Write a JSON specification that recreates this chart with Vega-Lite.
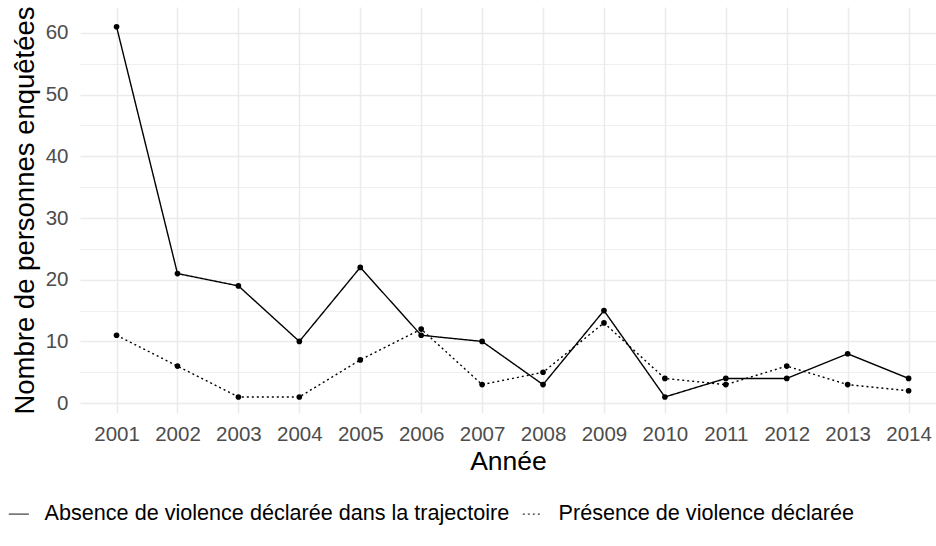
{
  "$schema": "https://vega.github.io/schema/vega-lite/v6.json",
  "autosize": "none",
  "width": 856,
  "height": 406,
  "padding": {"left": 80, "top": 7, "right": 0, "bottom": 133},
  "background": "white",
  "config": {
    "view": {"stroke": null},
    "font": "Liberation Sans",
    "axis": {"domain": false, "ticks": false, "gridColor": "#ebebeb", "labelColor": "#4d4d4d", "labelFont": "Liberation Sans", "titleFont": "Liberation Sans", "titleFontWeight": "normal", "titleColor": "#000000"}
  },
  "data": {
    "values": [
      {"annee": 2001, "serie": "Absence de violence déclarée dans la trajectoire", "n": 61},
      {"annee": 2002, "serie": "Absence de violence déclarée dans la trajectoire", "n": 21},
      {"annee": 2003, "serie": "Absence de violence déclarée dans la trajectoire", "n": 19},
      {"annee": 2004, "serie": "Absence de violence déclarée dans la trajectoire", "n": 10},
      {"annee": 2005, "serie": "Absence de violence déclarée dans la trajectoire", "n": 22},
      {"annee": 2006, "serie": "Absence de violence déclarée dans la trajectoire", "n": 11},
      {"annee": 2007, "serie": "Absence de violence déclarée dans la trajectoire", "n": 10},
      {"annee": 2008, "serie": "Absence de violence déclarée dans la trajectoire", "n": 3},
      {"annee": 2009, "serie": "Absence de violence déclarée dans la trajectoire", "n": 15},
      {"annee": 2010, "serie": "Absence de violence déclarée dans la trajectoire", "n": 1},
      {"annee": 2011, "serie": "Absence de violence déclarée dans la trajectoire", "n": 4},
      {"annee": 2012, "serie": "Absence de violence déclarée dans la trajectoire", "n": 4},
      {"annee": 2013, "serie": "Absence de violence déclarée dans la trajectoire", "n": 8},
      {"annee": 2014, "serie": "Absence de violence déclarée dans la trajectoire", "n": 4},
      {"annee": 2001, "serie": "Présence de violence déclarée", "n": 11},
      {"annee": 2002, "serie": "Présence de violence déclarée", "n": 6},
      {"annee": 2003, "serie": "Présence de violence déclarée", "n": 1},
      {"annee": 2004, "serie": "Présence de violence déclarée", "n": 1},
      {"annee": 2005, "serie": "Présence de violence déclarée", "n": 7},
      {"annee": 2006, "serie": "Présence de violence déclarée", "n": 12},
      {"annee": 2007, "serie": "Présence de violence déclarée", "n": 3},
      {"annee": 2008, "serie": "Présence de violence déclarée", "n": 5},
      {"annee": 2009, "serie": "Présence de violence déclarée", "n": 13},
      {"annee": 2010, "serie": "Présence de violence déclarée", "n": 4},
      {"annee": 2011, "serie": "Présence de violence déclarée", "n": 3},
      {"annee": 2012, "serie": "Présence de violence déclarée", "n": 6},
      {"annee": 2013, "serie": "Présence de violence déclarée", "n": 3},
      {"annee": 2014, "serie": "Présence de violence déclarée", "n": 2}
    ]
  },
  "encoding": {
    "x": {
      "field": "annee", "type": "quantitative",
      "scale": {"domain": [2000.4, 2014.45], "nice": false, "zero": false},
      "axis": {
        "title": "Année", "titleFontSize": 26.5, "titlePadding": 4,
        "values": [2001, 2002, 2003, 2004, 2005, 2006, 2007, 2008, 2009, 2010, 2011, 2012, 2013, 2014],
        "format": "d", "labelFontSize": 20.5, "labelPadding": 11, "gridWidth": 1.5
      }
    },
    "y": {
      "field": "n", "type": "quantitative",
      "scale": {"domain": [-1.6, 64.2], "nice": false, "zero": false},
      "axis": {
        "title": "Nombre de personnes enquêtées", "titleFontSize": 27.5, "titlePadding": 6,
        "values": [0, 5, 10, 15, 20, 25, 30, 35, 40, 45, 50, 55, 60],
        "labelExpr": "datum.value % 10 === 0 ? datum.label : ''",
        "labelFontSize": 20.5, "labelPadding": 12,
        "gridWidth": {"condition": {"test": "datum.value % 10 === 0", "value": 1.5}, "value": 0.8}
      }
    }
  },
  "layer": [
    {
      "mark": {"type": "line", "color": "black", "strokeWidth": 1.4},
      "encoding": {
        "strokeDash": {
          "field": "serie", "type": "nominal",
          "scale": {"range": [[1, 0], [2, 3]]},
          "legend": {
            "title": null, "orient": "none", "legendX": -72, "legendY": 496,
            "direction": "horizontal", "symbolType": "stroke", "symbolSize": 400,
            "symbolStrokeWidth": 1, "symbolStrokeColor": "black",
            "labelFontSize": 21.6, "labelColor": "black", "labelOffset": 15,
            "columnPadding": 10, "labelLimit": 1000
          }
        }
      }
    },
    {
      "mark": {"type": "point", "filled": true, "color": "black", "size": 32, "opacity": 1},
      "encoding": {"detail": {"field": "serie", "type": "nominal"}}
    }
  ]
}
